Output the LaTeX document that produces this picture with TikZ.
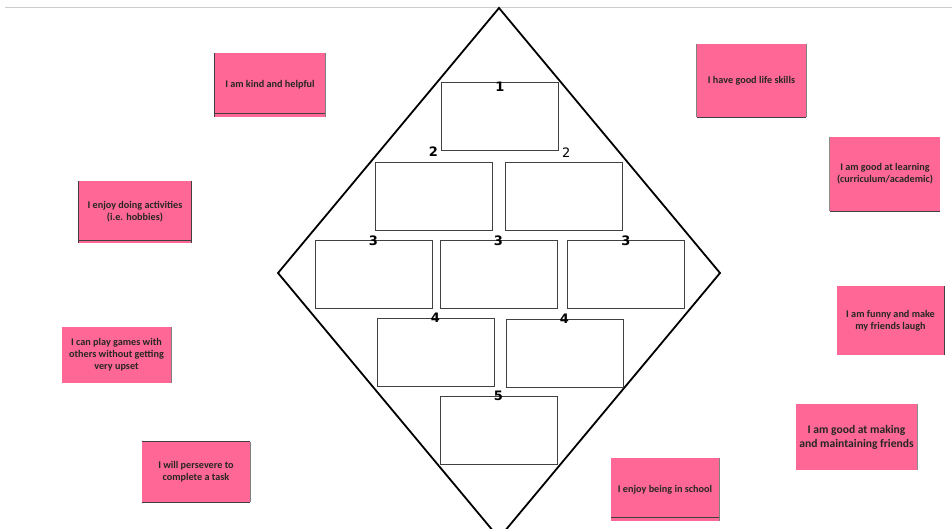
\documentclass[tikz,border=0pt]{standalone}
\usepackage{fontspec}
\usepackage{tikz}
\usetikzlibrary{calc, positioning}
\newfontfamily\cardfont{Carlito}
\newfontfamily\numfont{DejaVu Sans}
\definecolor{cardpink}{RGB}{255,104,150}

\begin{document}
\begin{tikzpicture}[
  x=1pt, y=-1pt,
  kite/.style={draw=black, line width=1.8pt, line join=miter},
  slot/.style={draw=black!75, line width=0.9pt, fill=white, minimum width=117pt, minimum height=68pt, inner sep=0pt},
  card/.style={fill=cardpink, text=black!85, align=center, inner sep=2pt,
    font=\cardfont\bfseries\fontsize{10.2}{12}\selectfont},
  rim/.style={draw=black!75, line width=0.9pt},
  num/.style={font=\numfont\bfseries\fontsize{13}{13}\selectfont, inner sep=0pt}
]
\clip (0,0) rectangle (952,528);
\fill[white] (0,0) rectangle (952,528);

% top rule
\coordinate (ruleL) at (5,7);
\coordinate (ruleR) at (952,7);
\draw[black!20, line width=1pt] (ruleL) -- (ruleR);

% the kite
\coordinate (kN) at (499,8);
\coordinate (kE) at (720,273);
\coordinate (kS) at (499,538);
\coordinate (kW) at (278,273);
\draw[kite] (kN) -- (kE) -- (kS) -- (kW) -- cycle;

% ranking boxes
\node[slot] (b1)  at (500,116.5) {};
\node[slot] (b2a) at (434,196) {};
\node[slot] (b2b) at (564,196) {};
\node[slot] (b3a) at (373.5,274.5) {};
\node[slot] (b3b) at (498.5,274.5) {};
\node[slot] (b3c) at (626,274.5) {};
\node[slot] (b4a) at (435.5,352.5) {};
\node[slot] (b4b) at (564.5,353) {};
\node[slot] (b5)  at (498.5,430) {};

\node[num, anchor=north] at (b1.north) {1};
\node[num, anchor=east] at ($(b1.south west)+(-3,1)$) {2};
\node[num, anchor=west, font=\numfont\fontsize{13}{13}\selectfont] at ($(b1.south east)+(3,2)$) {2};
\foreach \b in {b3a,b3b,b3c} {
  \node[num] at ($(\b.north)+(0,1)$) {3};
}
\node[num] at (b4a.north) {4};
\node[num] at (b4b.north) {4};
\node[num] at (b5.north) {5};

% statement cards
\node[card, minimum width=110pt, minimum height=64pt] (kind) at (270,85) {I am kind and helpful};
\node[card, minimum width=109pt, minimum height=73pt] (life) at (751.5,80.5) {I have good life skills};
\node[card, minimum width=112pt, minimum height=62pt] (hobby) at (135,212) {I enjoy doing activities\\(i.e. hobbies)};
\node[card, minimum width=110pt, minimum height=74pt] (learn) at (885,174) {I am good at learning\\(curriculum/academic)};
\node[card, minimum width=109pt, minimum height=56pt] (games) at (116.5,355) {I can play games with\\others without getting\\very upset};
\node[card, minimum width=107pt, minimum height=69pt] (funny) at (890.5,320.5) {I am funny and make\\my friends laugh};
\node[card, minimum width=121pt, minimum height=66pt,
  font=\cardfont\bfseries\fontsize{11.6}{14}\selectfont] (friends) at (856.5,437) {I am good at making\\and maintaining friends};
\node[card, minimum width=108pt, minimum height=60pt] (task) at (196,472) {I will persevere to\\complete a task};
\node[card, minimum width=108pt, minimum height=63pt] (school) at (665,489.5) {I enjoy being in school};

% card edges
\draw[rim] (kind.north west) -- (kind.south west);
\draw[rim] ($(kind.south west)+(0,-4)$) -- ($(kind.south east)+(0,-4)$);
\draw[rim, black!50] (kind.north east) -- (kind.south east);
\draw[rim, black!50] (life.north west) -- (life.south west);
\draw[rim] (life.south west) -- (life.south east);
\draw[rim, black!50] (life.north east) -- (life.south east);
\draw[rim] (hobby.north west) -- (hobby.south west);
\draw[rim] (hobby.north east) -- (hobby.south east);
\draw[rim] ($(hobby.south west)+(0,-3)$) -- ($(hobby.south east)+(0,-3)$);
\draw[rim, black!45] (learn.north west) -- (learn.south west);
\draw[rim] (learn.south west) -- (learn.south east);
\draw[rim, black!50] (games.north east) -- (games.south east);
\draw[rim] (funny.north east) -- (funny.south east);
\draw[rim, black!45] (friends.north east) -- (friends.south east);
\draw[rim] (task.north west) -- (task.north east);
\draw[rim] (task.south west) -- (task.south east);
\draw[rim, black!50] (task.north east) -- (task.south east);
\draw[rim, black!50] (school.north east) -- (school.south east);
\draw[rim] ($(school.south west)+(0,-4)$) -- ($(school.south east)+(0,-4)$);

\end{tikzpicture}
\end{document}
